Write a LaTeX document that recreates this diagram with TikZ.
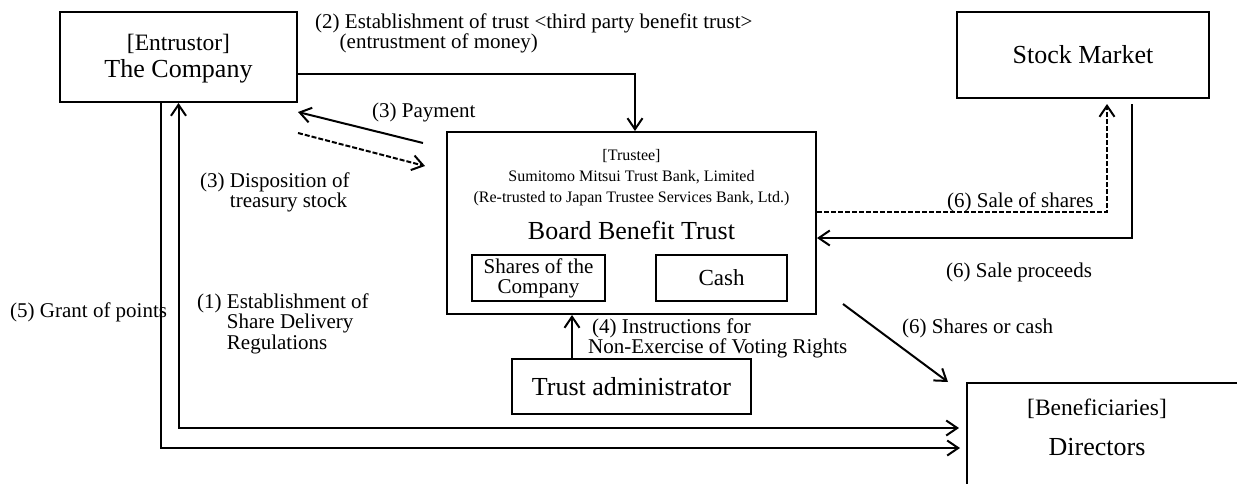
\documentclass[tikz,border=0pt]{standalone}
\usepackage{fontspec}
\setmainfont{Liberation Serif}
\usetikzlibrary{arrows.meta}

\newcommand{\fbig}{\fontsize{26}{27}\selectfont}
\newcommand{\ftag}{\fontsize{23.5}{27}\selectfont}
\newcommand{\flab}{\fontsize{21}{20.5}\selectfont}
\newcommand{\fsmall}{\fontsize{16}{21}\selectfont}

\begin{document}
\begin{tikzpicture}[x=1pt,y=-1pt,
  box/.style={draw, line width=2pt, inner sep=0pt, align=center},
  arr/.style={-{Straight Barb[length=11pt,width=15pt]}, line width=2pt},
  arrboth/.style={{Straight Barb[length=11pt,width=15pt]}-{Straight Barb[length=11pt,width=15pt]}, line width=2pt},
  dash6/.style={dash pattern=on 5pt off 2pt},
  lab/.style={font=\flab, inner sep=0pt, align=left}]

\useasboundingbox (0,0) rectangle (1237,483);

% Entrustor
\node [box, minimum width=237, minimum height=90] (company) at (178.5,57) {};
\node [font=\ftag, anchor=base, inner sep=0pt] (entrustor) at (178.5,50) {[Entrustor]};
\node [font=\fbig, anchor=base, inner sep=0pt] (companyname) at (178.5,77) {The Company};

% Trustee
\node [box, minimum width=369, minimum height=182] (trust) at (631.5,223) {};
\node [font=\fsmall, anchor=north, inner sep=0pt, align=center] (trustee) at (631.5,149.5)
  {[Trustee]\\Sumitomo Mitsui Trust Bank, Limited\\(Re-trusted to Japan Trustee Services Bank, Ltd.)};
\node [font=\fbig, anchor=base, inner sep=0pt] (bbt) at (631.5,239) {Board Benefit Trust};
\node [box, font=\fontsize{21}{20}\selectfont, minimum width=133, minimum height=46] (shares) at (538.5,278) {Shares of the\\Company};
\node [box, font=\fontsize{23}{24}\selectfont, minimum width=131, minimum height=46] (cash) at (721.5,278) {Cash};

% Trust administrator
\node [box, font=\fbig, minimum width=239, minimum height=55] (admin) at (631.5,386.5) {Trust administrator};

% Stock market
\node [box, font=\fbig, minimum width=252, minimum height=86] (market) at (1083,55) {Stock Market};

% Beneficiaries
\node [box, minimum width=320, minimum height=130, anchor=north west] (directors) at (966,382) {};
\node [font=\ftag, anchor=base, inner sep=0pt] (benef) at (1097,415) {[Beneficiaries]};
\node [font=\fbig, anchor=base, inner sep=0pt] (dirname) at (1097,455) {Directors};

% free ends
\coordinate (payA) at (423,143);
\coordinate (dispB) at (425,166);
\coordinate (cashA) at (843,304);

% (2) establishment of trust
\draw [arr] ([yshift=-17pt]company.east) -| ([xshift=3.5pt]trust.north);
\node [lab, anchor=north west] (l2) at (315,13.5)
  {(2) Establishment of trust <third party benefit trust>\\\phantom{(2)}(entrustment of money)};

% (3) payment and disposition
\draw [arr] (payA) -- ([yshift=-9pt]company.south east);
\draw [arr, dash6] ([yshift=-30pt]company.south east) -- (dispB);
\node [lab, anchor=base west] (l3a) at (372,117) {(3) Payment};
\node [lab, anchor=north west] (l3b) at (200,172.5)
  {(3) Disposition of\\\phantom{(3) }treasury stock};

% (1) and (5) to directors
\draw [arrboth, shorten >=7pt] (company.south) |- ([yshift=20pt]directors.west);
\draw [arr, shorten >=6pt] ([xshift=-17.5pt]company.south) |- (directors.west);
\node [lab, anchor=north west] (l1) at (197,293.5)
  {(1) Establishment of\\\phantom{(1) }Share Delivery\\\phantom{(1) }Regulations};
\node [lab, anchor=base west] (l5) at (10,317) {(5) Grant of points};

% (4) instructions
\draw [arr] ([xshift=-59.5pt]admin.north) -- ([xshift=-59.5pt]admin.north |- trust.south);
\node [lab, anchor=north west] (l4) at (588,318.5)
  {\hspace{4pt}(4) Instructions for\\Non-Exercise of Voting Rights};

% (6) stock market
\draw [arr, dash6, shorten >=5pt] ([yshift=11pt]trust.east) -| ([xshift=24pt]market.south);
\draw [arr] ([xshift=49pt,yshift=-5pt]market.south) |- ([yshift=-15pt]trust.east);
\node [lab, anchor=base west] (l6a) at (947,207) {(6) Sale of shares};
\node [lab, anchor=base west] (l6b) at (946,277) {(6) Sale proceeds};

% (6) delivery
\draw [arr] (cashA) -- ([xshift=-18pt]directors.north west);
\node [lab, anchor=base west] (l6c) at (902,333) {(6) Shares or cash};

\end{tikzpicture}
\end{document}
